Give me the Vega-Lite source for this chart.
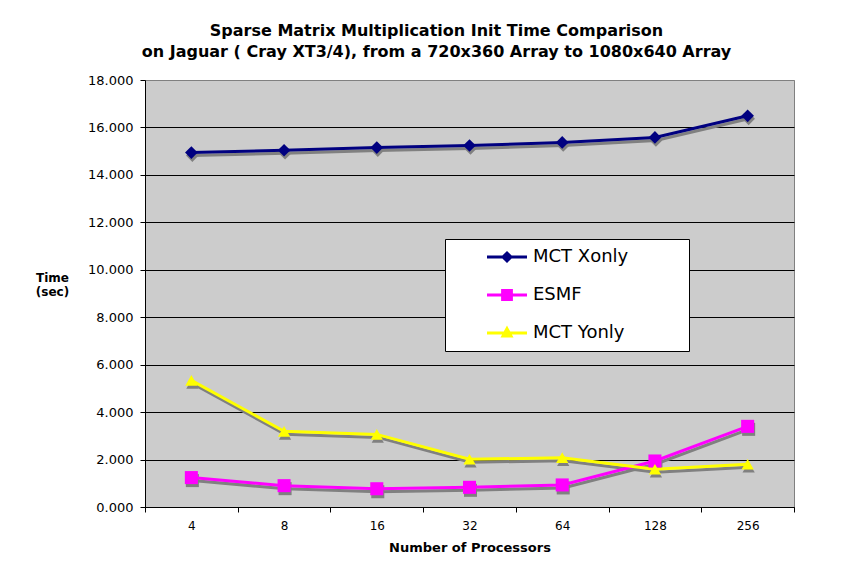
{
  "$schema": "https://vega.github.io/schema/vega-lite/v6.json",
  "width": 649,
  "height": 427,
  "autosize": {"type": "none"},
  "padding": {"left": 145, "top": 80, "right": 63, "bottom": 72},
  "background": "white",
  "config": {
    "font": "DejaVu Sans",
    "view": {"fill": "#CCCCCC", "stroke": "#808080", "strokeWidth": 1}
  },
  "title": {
    "text": ["Sparse Matrix Multiplication Init Time Comparison", "on Jaguar ( Cray XT3/4), from a 720x360 Array to 1080x640 Array"],
    "font": "DejaVu Sans",
    "fontSize": 16,
    "fontWeight": "bold",
    "color": "black",
    "anchor": "middle",
    "dx": -33,
    "offset": 14,
    "lineHeight": 21
  },
  "data": {
    "values": [
      {"procs": "4", "series": "MCT Xonly", "time": 14.94},
      {"procs": "8", "series": "MCT Xonly", "time": 15.04},
      {"procs": "16", "series": "MCT Xonly", "time": 15.15},
      {"procs": "32", "series": "MCT Xonly", "time": 15.24},
      {"procs": "64", "series": "MCT Xonly", "time": 15.37},
      {"procs": "128", "series": "MCT Xonly", "time": 15.58},
      {"procs": "256", "series": "MCT Xonly", "time": 16.49},
      {"procs": "4", "series": "ESMF", "time": 1.24},
      {"procs": "8", "series": "ESMF", "time": 0.90},
      {"procs": "16", "series": "ESMF", "time": 0.77},
      {"procs": "32", "series": "ESMF", "time": 0.83},
      {"procs": "64", "series": "ESMF", "time": 0.93},
      {"procs": "128", "series": "ESMF", "time": 1.94},
      {"procs": "256", "series": "ESMF", "time": 3.40},
      {"procs": "4", "series": "MCT Yonly", "time": 5.34},
      {"procs": "8", "series": "MCT Yonly", "time": 3.19},
      {"procs": "16", "series": "MCT Yonly", "time": 3.06},
      {"procs": "32", "series": "MCT Yonly", "time": 2.01},
      {"procs": "64", "series": "MCT Yonly", "time": 2.08},
      {"procs": "128", "series": "MCT Yonly", "time": 1.59},
      {"procs": "256", "series": "MCT Yonly", "time": 1.80}
    ]
  },
  "encoding": {
    "x": {
      "field": "procs",
      "type": "ordinal",
      "scale": {"type": "band", "domain": ["4", "8", "16", "32", "64", "128", "256"], "paddingInner": 0, "paddingOuter": 0},
      "axis": {
        "title": "Number of Processors",
        "titleFont": "DejaVu Sans",
        "titleFontSize": 13,
        "titleFontWeight": "bold",
        "titleColor": "black",
        "titlePadding": 10,
        "labelFont": "DejaVu Sans",
        "labelFontSize": 12,
        "labelColor": "black",
        "labelPadding": 8,
        "labelAngle": 0,
        "tickBand": "extent",
        "tickSize": 5,
        "tickColor": "black",
        "domainColor": "black",
        "grid": false
      }
    },
    "y": {
      "field": "time",
      "type": "quantitative",
      "scale": {"domain": [0, 18], "nice": false},
      "axis": {
        "title": ["Time", "(sec)"],
        "titleAngle": 0,
        "titleX": -93,
        "titleY": 197,
        "titleAlign": "center",
        "titleBaseline": "middle",
        "titleFont": "DejaVu Sans",
        "titleFontSize": 12,
        "titleFontWeight": "bold",
        "titleColor": "black",
        "titleLineHeight": 14,
        "values": [0, 2, 4, 6, 8, 10, 12, 14, 16, 18],
        "format": ".3f",
        "labelFont": "DejaVu Sans",
        "labelFontSize": 13,
        "labelColor": "black",
        "labelPadding": 7,
        "tickSize": 5,
        "tickColor": "black",
        "domainColor": "black",
        "grid": true,
        "gridColor": {"condition": {"test": "datum.value == 18", "value": "#808080"}, "value": "black"},
        "gridOpacity": 1
      }
    }
  },
  "layer": [
    {
      "mark": {"type": "line", "color": "#808080", "strokeWidth": 3, "xOffset": 1, "yOffset": 3},
      "encoding": {"detail": {"field": "series", "type": "nominal"}}
    },
    {
      "transform": [{"filter": "datum.series === 'MCT Xonly'"}],
      "mark": {"type": "point", "filled": true, "opacity": 1, "color": "#808080", "shape": "diamond", "size": 160, "xOffset": 1, "yOffset": 3}
    },
    {
      "transform": [{"filter": "datum.series === 'ESMF'"}],
      "mark": {"type": "point", "filled": true, "opacity": 1, "color": "#808080", "shape": "square", "size": 170, "xOffset": 1, "yOffset": 3}
    },
    {
      "transform": [{"filter": "datum.series === 'MCT Yonly'"}],
      "mark": {"type": "point", "filled": true, "opacity": 1, "color": "#808080", "shape": "triangle-up", "size": 150, "xOffset": 1, "yOffset": 3}
    },
    {
      "mark": {"type": "line", "strokeWidth": 3},
      "encoding": {
        "color": {
          "field": "series",
          "type": "nominal",
          "scale": {"domain": ["MCT Xonly", "ESMF", "MCT Yonly"], "range": ["#000080", "#FF00FF", "#FFFF00"]},
          "legend": {
            "orient": "none",
            "legendX": 300,
            "legendY": 159,
            "title": null,
            "fillColor": "white",
            "strokeColor": "black",
            "padding": 6.5,
            "symbolSize": 400,
            "symbolStrokeWidth": 3,
            "symbolOffset": 44,
            "labelOffset": 14.5,
            "labelFont": "DejaVu Sans",
            "labelFontSize": 18,
            "labelColor": "black",
            "rowPadding": 15,
            "encode": {
              "symbols": {
                "update": {
                  "shape": {"signal": "datum.value === 'MCT Xonly' ? 'M-5.55,-0.5M16.95,0.5M-2,0L2,0M0,-0.4L0.4,0L0,0.4L-0.4,0Z' : datum.value === 'ESMF' ? 'M-5.55,-0.5M16.95,0.5M-2,0L2,0M-0.44,-0.44L0.44,-0.44L0.44,0.44L-0.44,0.44Z' : 'M-5.55,-0.5M16.95,0.5M-2,0L2,0M0,-0.44L0.4,0.3L-0.4,0.3Z'"},
                  "fill": {"scale": "color", "field": "value"},
                  "stroke": {"scale": "color", "field": "value"},
                  "opacity": {"value": 1}
                }
              }
            }
          }
        }
      }
    },
    {
      "transform": [{"filter": "datum.series === 'MCT Xonly'"}],
      "mark": {"type": "point", "filled": true, "opacity": 1, "color": "#000080", "shape": "diamond", "size": 160}
    },
    {
      "transform": [{"filter": "datum.series === 'ESMF'"}],
      "mark": {"type": "point", "filled": true, "opacity": 1, "color": "#FF00FF", "shape": "square", "size": 170}
    },
    {
      "transform": [{"filter": "datum.series === 'MCT Yonly'"}],
      "mark": {"type": "point", "filled": true, "opacity": 1, "color": "#FFFF00", "shape": "triangle-up", "size": 150}
    }
  ]
}
